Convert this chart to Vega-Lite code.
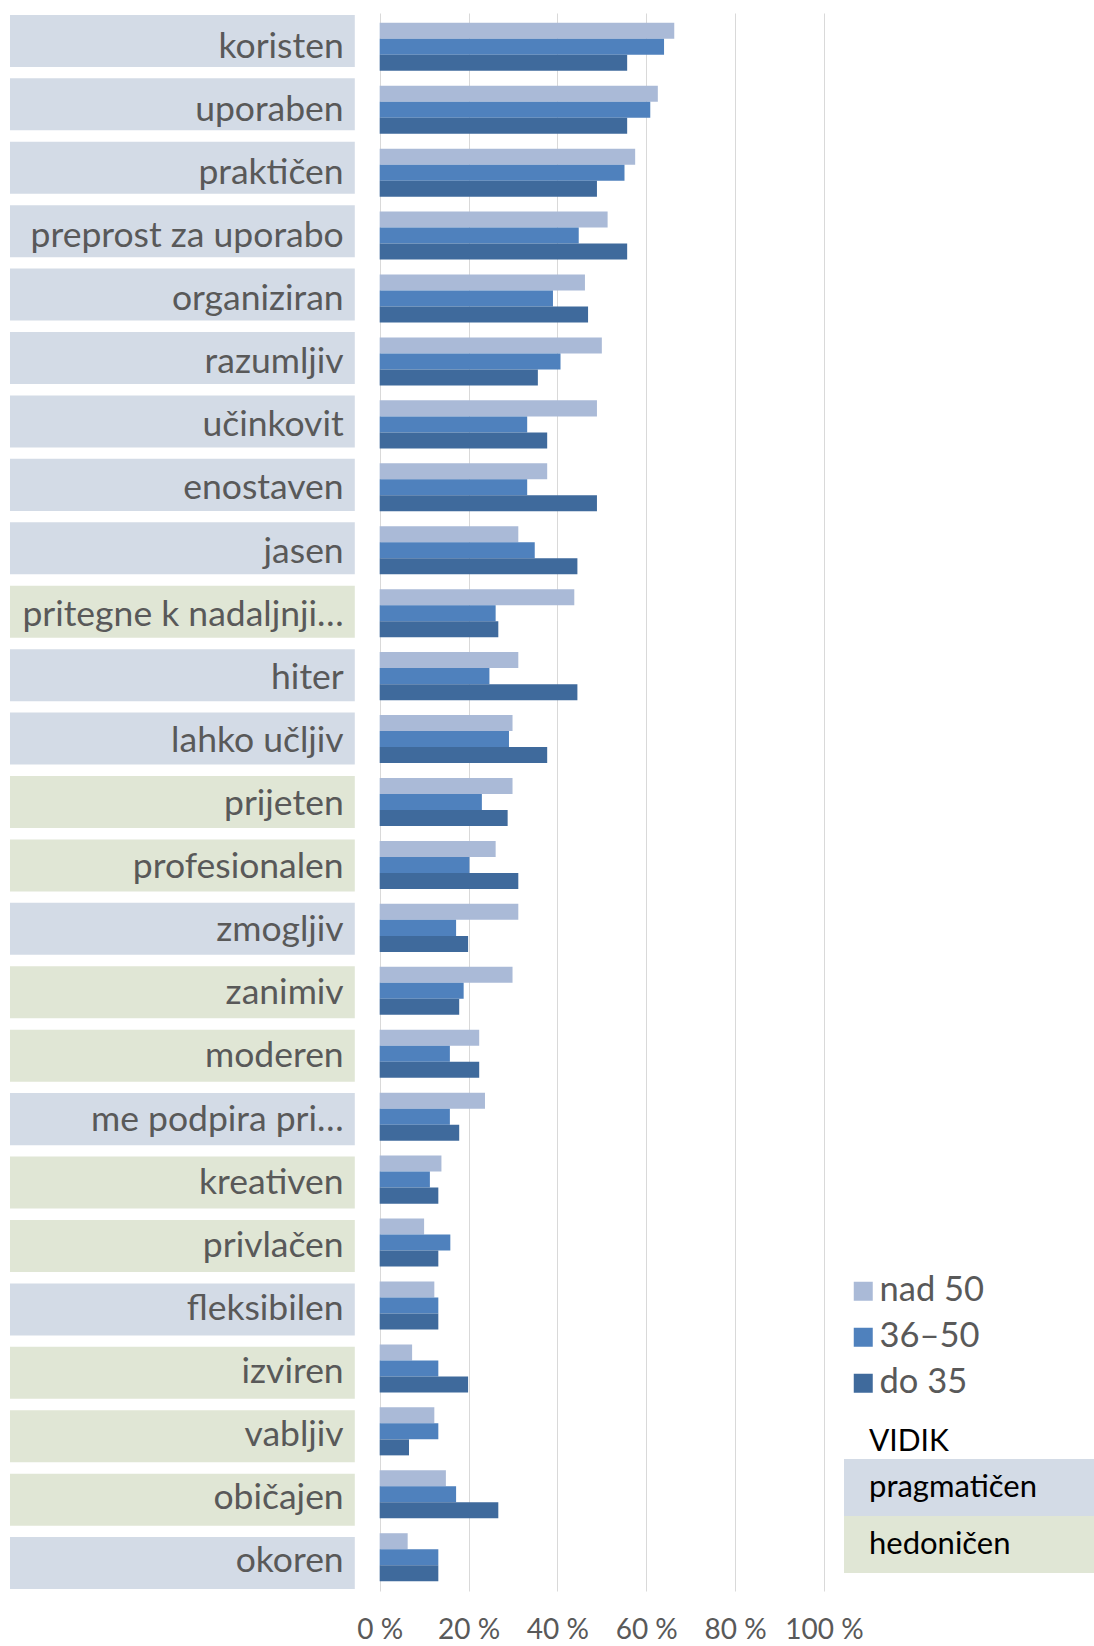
{
  "$schema": "https://vega.github.io/schema/vega-lite/v6.json",
  "width": 814,
  "height": 1578,
  "padding": {"left": 10, "top": 13, "right": 0, "bottom": 0},
  "background": "white",
  "config": {"view": {"stroke": null}, "font": "Lato"},
  "datasets": {
    "items": [
      {"label": "koristen", "aspect": "pragmatičen"},
      {"label": "uporaben", "aspect": "pragmatičen"},
      {"label": "praktičen", "aspect": "pragmatičen"},
      {"label": "preprost za uporabo", "aspect": "pragmatičen"},
      {"label": "organiziran", "aspect": "pragmatičen"},
      {"label": "razumljiv", "aspect": "pragmatičen"},
      {"label": "učinkovit", "aspect": "pragmatičen"},
      {"label": "enostaven", "aspect": "pragmatičen"},
      {"label": "jasen", "aspect": "pragmatičen"},
      {"label": "pritegne k nadaljnji…", "aspect": "hedoničen"},
      {"label": "hiter", "aspect": "pragmatičen"},
      {"label": "lahko učljiv", "aspect": "pragmatičen"},
      {"label": "prijeten", "aspect": "hedoničen"},
      {"label": "profesionalen", "aspect": "hedoničen"},
      {"label": "zmogljiv", "aspect": "pragmatičen"},
      {"label": "zanimiv", "aspect": "hedoničen"},
      {"label": "moderen", "aspect": "hedoničen"},
      {"label": "me podpira pri…", "aspect": "pragmatičen"},
      {"label": "kreativen", "aspect": "hedoničen"},
      {"label": "privlačen", "aspect": "hedoničen"},
      {"label": "fleksibilen", "aspect": "pragmatičen"},
      {"label": "izviren", "aspect": "hedoničen"},
      {"label": "vabljiv", "aspect": "hedoničen"},
      {"label": "običajen", "aspect": "hedoničen"},
      {"label": "okoren", "aspect": "pragmatičen"}
    ],
    "shares": [
      {"label": "koristen", "group": "nad 50", "value": 0.663},
      {"label": "koristen", "group": "36–50", "value": 0.640},
      {"label": "koristen", "group": "do 35", "value": 0.557},
      {"label": "uporaben", "group": "nad 50", "value": 0.626},
      {"label": "uporaben", "group": "36–50", "value": 0.609},
      {"label": "uporaben", "group": "do 35", "value": 0.557},
      {"label": "praktičen", "group": "nad 50", "value": 0.575},
      {"label": "praktičen", "group": "36–50", "value": 0.551},
      {"label": "praktičen", "group": "do 35", "value": 0.489},
      {"label": "preprost za uporabo", "group": "nad 50", "value": 0.513},
      {"label": "preprost za uporabo", "group": "36–50", "value": 0.448},
      {"label": "preprost za uporabo", "group": "do 35", "value": 0.557},
      {"label": "organiziran", "group": "nad 50", "value": 0.462},
      {"label": "organiziran", "group": "36–50", "value": 0.390},
      {"label": "organiziran", "group": "do 35", "value": 0.469},
      {"label": "razumljiv", "group": "nad 50", "value": 0.500},
      {"label": "razumljiv", "group": "36–50", "value": 0.407},
      {"label": "razumljiv", "group": "do 35", "value": 0.356},
      {"label": "učinkovit", "group": "nad 50", "value": 0.489},
      {"label": "učinkovit", "group": "36–50", "value": 0.332},
      {"label": "učinkovit", "group": "do 35", "value": 0.377},
      {"label": "enostaven", "group": "nad 50", "value": 0.377},
      {"label": "enostaven", "group": "36–50", "value": 0.332},
      {"label": "enostaven", "group": "do 35", "value": 0.489},
      {"label": "jasen", "group": "nad 50", "value": 0.312},
      {"label": "jasen", "group": "36–50", "value": 0.349},
      {"label": "jasen", "group": "do 35", "value": 0.445},
      {"label": "pritegne k nadaljnji…", "group": "nad 50", "value": 0.438},
      {"label": "pritegne k nadaljnji…", "group": "36–50", "value": 0.261},
      {"label": "pritegne k nadaljnji…", "group": "do 35", "value": 0.267},
      {"label": "hiter", "group": "nad 50", "value": 0.312},
      {"label": "hiter", "group": "36–50", "value": 0.247},
      {"label": "hiter", "group": "do 35", "value": 0.445},
      {"label": "lahko učljiv", "group": "nad 50", "value": 0.299},
      {"label": "lahko učljiv", "group": "36–50", "value": 0.291},
      {"label": "lahko učljiv", "group": "do 35", "value": 0.377},
      {"label": "prijeten", "group": "nad 50", "value": 0.299},
      {"label": "prijeten", "group": "36–50", "value": 0.230},
      {"label": "prijeten", "group": "do 35", "value": 0.288},
      {"label": "profesionalen", "group": "nad 50", "value": 0.261},
      {"label": "profesionalen", "group": "36–50", "value": 0.202},
      {"label": "profesionalen", "group": "do 35", "value": 0.312},
      {"label": "zmogljiv", "group": "nad 50", "value": 0.312},
      {"label": "zmogljiv", "group": "36–50", "value": 0.172},
      {"label": "zmogljiv", "group": "do 35", "value": 0.199},
      {"label": "zanimiv", "group": "nad 50", "value": 0.299},
      {"label": "zanimiv", "group": "36–50", "value": 0.189},
      {"label": "zanimiv", "group": "do 35", "value": 0.179},
      {"label": "moderen", "group": "nad 50", "value": 0.224},
      {"label": "moderen", "group": "36–50", "value": 0.158},
      {"label": "moderen", "group": "do 35", "value": 0.224},
      {"label": "me podpira pri…", "group": "nad 50", "value": 0.237},
      {"label": "me podpira pri…", "group": "36–50", "value": 0.158},
      {"label": "me podpira pri…", "group": "do 35", "value": 0.179},
      {"label": "kreativen", "group": "nad 50", "value": 0.139},
      {"label": "kreativen", "group": "36–50", "value": 0.113},
      {"label": "kreativen", "group": "do 35", "value": 0.132},
      {"label": "privlačen", "group": "nad 50", "value": 0.100},
      {"label": "privlačen", "group": "36–50", "value": 0.159},
      {"label": "privlačen", "group": "do 35", "value": 0.132},
      {"label": "fleksibilen", "group": "nad 50", "value": 0.123},
      {"label": "fleksibilen", "group": "36–50", "value": 0.132},
      {"label": "fleksibilen", "group": "do 35", "value": 0.132},
      {"label": "izviren", "group": "nad 50", "value": 0.073},
      {"label": "izviren", "group": "36–50", "value": 0.132},
      {"label": "izviren", "group": "do 35", "value": 0.199},
      {"label": "vabljiv", "group": "nad 50", "value": 0.123},
      {"label": "vabljiv", "group": "36–50", "value": 0.132},
      {"label": "vabljiv", "group": "do 35", "value": 0.066},
      {"label": "običajen", "group": "nad 50", "value": 0.149},
      {"label": "običajen", "group": "36–50", "value": 0.172},
      {"label": "običajen", "group": "do 35", "value": 0.267},
      {"label": "okoren", "group": "nad 50", "value": 0.063},
      {"label": "okoren", "group": "36–50", "value": 0.132},
      {"label": "okoren", "group": "do 35", "value": 0.132}
    ]
  },
  "resolve": {"scale": {"y": "independent"}},
  "layer": [
    {
      "data": {"name": "items"},
      "mark": {"type": "rect"},
      "encoding": {
        "y": {"field": "label", "type": "nominal", "sort": null, "axis": null,
              "scale": {"paddingInner": 0.18, "paddingOuter": 0.03}},
        "x": {"datum": -0.832, "type": "quantitative"},
        "x2": {"datum": -0.056},
        "fill": {
          "field": "aspect", "type": "nominal",
          "scale": {"domain": ["pragmatičen", "hedoničen"], "range": ["#D3DBE6", "#E0E6D5"]},
          "legend": {
            "orient": "none", "legendX": 859, "legendY": 1414, "padding": 0,
            "title": "VIDIK", "titleFont": "Lato", "titleFontSize": 30, "titleColor": "#000000",
            "titleFontWeight": "normal", "titlePadding": 2,
            "symbolType": "M-1.877,-1H6.895V1H-1.877Z", "symbolSize": 3249,
            "symbolStrokeWidth": 0, "symbolOpacity": 1,
            "labelFont": "Lato", "labelFontSize": 31, "labelColor": "#000000",
            "labelOffset": -57, "labelLimit": 400, "rowPadding": 0
          }
        }
      }
    },
    {
      "data": {"name": "items"},
      "mark": {"type": "text", "align": "right", "baseline": "middle", "font": "Lato", "fontSize": 35.5, "dy": 2, "color": "#595959"},
      "encoding": {
        "y": {"field": "label", "type": "nominal", "sort": null, "axis": null,
              "scale": {"paddingInner": 0.237, "paddingOuter": 0.155}},
        "x": {"datum": -0.081, "type": "quantitative"},
        "text": {"field": "label"}
      }
    },
    {
      "data": {"name": "shares"},
      "mark": {"type": "bar"},
      "encoding": {
        "y": {"field": "label", "type": "nominal", "sort": null, "axis": null,
              "scale": {"paddingInner": 0.237, "paddingOuter": 0.155}},
        "yOffset": {"field": "group", "type": "nominal",
                    "scale": {"domain": ["nad 50", "36–50", "do 35"], "paddingInner": 0, "paddingOuter": 0}},
        "x": {
          "field": "value", "type": "quantitative",
          "scale": {"domain": [-0.832, 1.0], "nice": false, "zero": false},
          "axis": {
            "title": null, "values": [0, 0.2, 0.4, 0.6, 0.8, 1.0],
            "labelExpr": "format(datum.value * 100, '.0f') + ' %'",
            "grid": true, "gridColor": "#D9D9D9", "gridWidth": 1,
            "domain": false, "ticks": false, "labelFlush": false, "labelOverlap": false,
            "labelFont": "Lato", "labelFontSize": 28, "labelColor": "#595959", "labelPadding": 25
          }
        },
        "color": {
          "field": "group", "type": "nominal",
          "scale": {"domain": ["nad 50", "36–50", "do 35"], "range": ["#AABAD7", "#4F81BD", "#3F6A9C"]},
          "legend": {
            "orient": "none", "legendX": 836, "legendY": 1261, "padding": 0, "title": null,
            "symbolType": "square", "symbolSize": 361, "symbolStrokeWidth": 0, "symbolOpacity": 1,
            "labelFont": "Lato", "labelFontSize": 34.5, "labelColor": "#595959",
            "labelOffset": -1, "rowPadding": 11, "labelLimit": 300
          }
        }
      }
    }
  ]
}
